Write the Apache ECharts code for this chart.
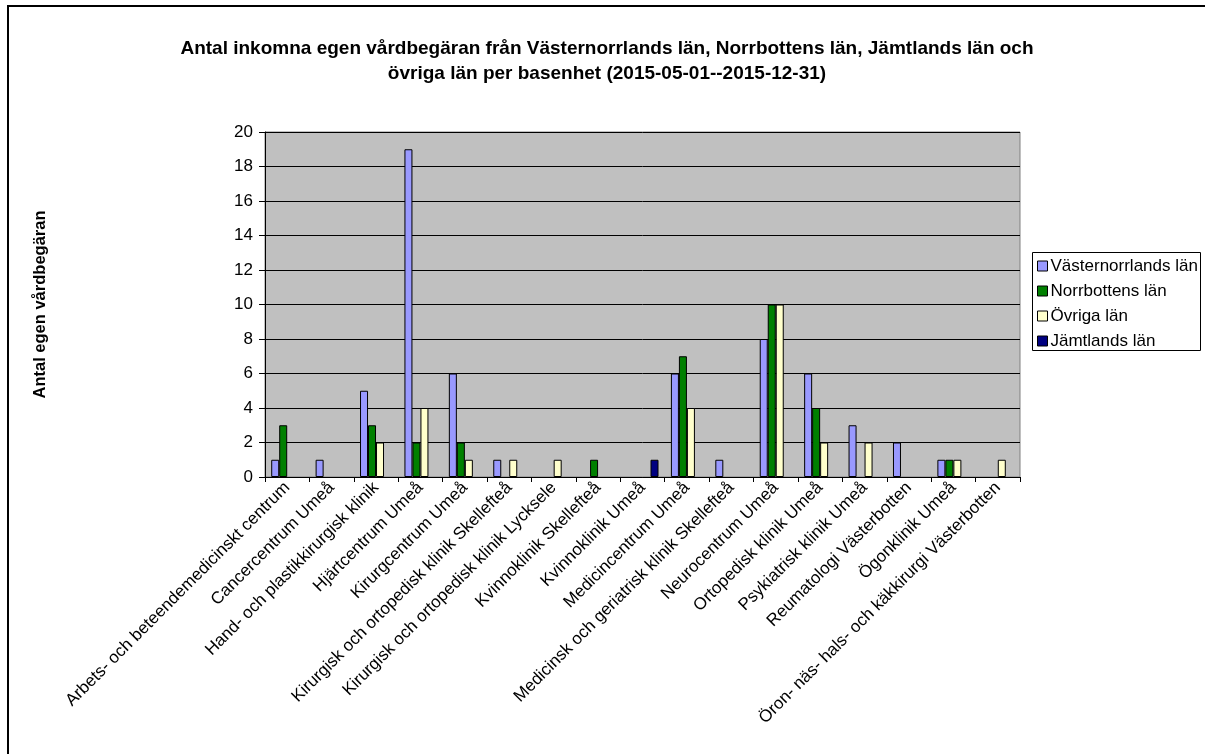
<!DOCTYPE html>
<html>
<head>
<meta charset="utf-8">
<script src="https://cdn.jsdelivr.net/npm/echarts@6/dist/echarts.min.js"></script>
<style>
  html, body { margin: 0; padding: 0; background: #fff; }
  #chart { width: 1205px; height: 754px; }
</style>
</head>
<body>
<div id="chart"></div>
<script>
// Basenheter (x-axis categories)
const categories = [
  'Arbets- och beteendemedicinskt centrum',
  'Cancercentrum Umeå',
  'Hand- och plastikkirurgisk klinik',
  'Hjärtcentrum Umeå',
  'Kirurgcentrum Umeå',
  'Kirurgisk och ortopedisk klinik Skellefteå',
  'Kirurgisk och ortopedisk klinik Lycksele',
  'Kvinnoklinik Skellefteå',
  'Kvinnoklinik Umeå',
  'Medicincentrum Umeå',
  'Medicinsk och geriatrisk klinik Skellefteå',
  'Neurocentrum Umeå',
  'Ortopedisk klinik Umeå',
  'Psykiatrisk klinik Umeå',
  'Reumatologi Västerbotten',
  'Ögonklinik Umeå',
  'Öron- näs- hals- och käkkirurgi Västerbotten'
];

// Antal egen vårdbegäran per län (null = inga)
const vasternorrland = [1, 1, 5, 19, 6, 1, null, null, null, 6, 1, 8, 6, 3, 2, 1, null];
const norrbotten     = [3, null, 3, 2, 2, null, null, 1, null, 7, null, 10, 4, null, null, 1, null];
const ovriga         = [null, null, 2, 4, 1, 1, 1, null, null, 4, null, 10, 2, 2, null, 1, 1];
const jamtland       = [null, null, null, null, null, null, null, null, 1, null, null, null, null, null, null, null, null];

const seriesNames = ['Västernorrlands län', 'Norrbottens län', 'Övriga län', 'Jämtlands län'];
const yTicks = { min: 0, max: 20, interval: 2 };

const FONT = '"Liberation Sans", Arial, sans-serif';
const colors = ['#9999FF', '#008000', '#FFFFCC', '#000080'];
const seriesData = [vasternorrland, norrbotten, ovriga, jamtland];

const chart = echarts.init(document.getElementById('chart'), null, { renderer: 'canvas' });

chart.setOption({
  animation: false,
  backgroundColor: '#ffffff',
  textStyle: { fontFamily: FONT },
  title: {
    text: 'Antal inkomna egen vårdbegäran från Västernorrlands län, Norrbottens län, Jämtlands län och\növriga län per basenhet (2015-05-01--2015-12-31)',
    left: 607,
    top: 36,
    padding: 0,
    textAlign: 'center',
    textStyle: {
      fontFamily: FONT,
      fontSize: 19,
      fontWeight: 'bold',
      color: '#000',
      lineHeight: 25
    }
  },
  graphic: [
    // outer chart frame (top and left edges visible)
    {
      type: 'rect',
      shape: { x: 8, y: 6, width: 1400, height: 900 },
      style: { fill: 'none', stroke: '#000', lineWidth: 2 },
      silent: true,
      z: 0
    },
    // legend frame
    {
      type: 'rect',
      shape: { x: 1032.5, y: 252.5, width: 168, height: 98 },
      style: { fill: '#fff', stroke: '#000', lineWidth: 1 },
      silent: true,
      z: 1
    }
  ],
  legend: {
    orient: 'vertical',
    left: 1037,
    top: 256,
    padding: 0,
    itemWidth: 10,
    itemHeight: 10,
    itemGap: 5,
    icon: 'rect',
    itemStyle: { borderColor: '#000', borderWidth: 1 },
    textStyle: { fontFamily: FONT, fontSize: 17, color: '#000', lineHeight: 20, padding: [0, 0, 0, -2] },
    data: seriesNames,
    z: 5
  },
  grid: {
    left: 265,
    right: 185,
    top: 132,
    bottom: 277,
    show: true,
    backgroundColor: '#C0C0C0',
    borderColor: '#808080',
    borderWidth: 1,
    containLabel: false
  },
  xAxis: {
    type: 'category',
    data: categories,
    axisLine: { lineStyle: { color: '#000', width: 1 } },
    axisTick: { show: true, length: 5, lineStyle: { color: '#000' } },
    axisLabel: {
      interval: 0,
      rotate: 45,
      margin: 8,
      fontFamily: FONT,
      fontSize: 17,
      color: '#000'
    },
    splitLine: { show: false }
  },
  yAxis: {
    type: 'value',
    min: yTicks.min,
    max: yTicks.max,
    interval: yTicks.interval,
    name: 'Antal egen vårdbegäran',
    nameLocation: 'middle',
    nameGap: 216,
    nameTextStyle: { fontFamily: FONT, fontSize: 16.5, fontWeight: 'bold', color: '#000' },
    axisLine: { show: true, lineStyle: { color: '#000', width: 1 } },
    axisTick: { show: true, length: 6, lineStyle: { color: '#000' } },
    axisLabel: { fontFamily: FONT, fontSize: 17, color: '#000', margin: 12 },
    splitLine: { show: true, lineStyle: { color: '#000', width: 1 } }
  },
  series: seriesNames.map((name, i) => ({
    name: name,
    type: 'bar',
    data: seriesData[i],
    barWidth: 8,
    barGap: '0%',
    itemStyle: { color: colors[i], borderColor: '#000', borderWidth: 1 },
    z: 3
  }))
});
</script>
</body>
</html>
